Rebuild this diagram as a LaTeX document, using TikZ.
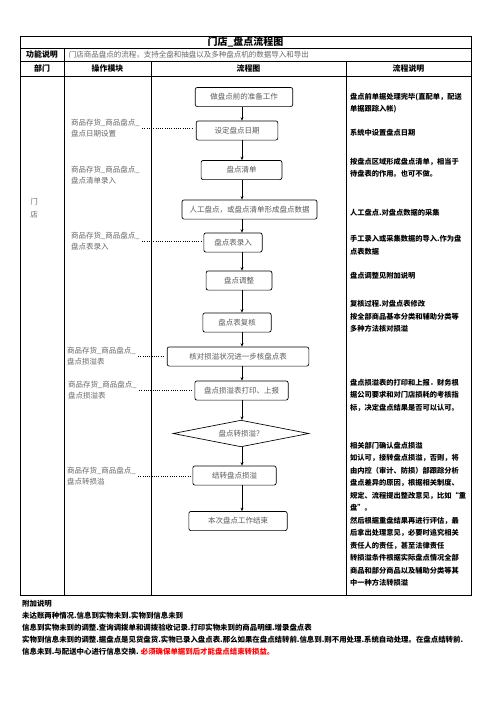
\documentclass[tikz,border=0pt]{standalone}
\usepackage{fontspec}
\setmainfont{Noto Sans CJK SC}
\usepackage{tikz}
\usetikzlibrary{arrows.meta,positioning,shapes.geometric}

\begin{document}
\begin{tikzpicture}[
  x=1.2pt, y=-1.2pt,
  grid/.style={line width=0.7pt},
  hd/.style={font=\bfseries\fontsize{9.5}{11}\selectfont},
  box/.style={draw, rounded corners=2.5pt, line width=0.8pt, minimum height=23pt, inner sep=1pt, text=black!65, font=\fontsize{9}{11}\selectfont},
  dec/.style={draw, diamond, shape aspect=5, inner sep=0pt, minimum width=163pt, minimum height=32pt, line width=0.8pt, text=black!65, font=\fontsize{9}{11}\selectfont},
  mod/.style={anchor=west, align=left, inner sep=0pt, text=black!60, font=\fontsize{9}{13.2}\selectfont},
  note/.style={anchor=west, align=left, inner sep=0pt, font=\bfseries\fontsize{8.7}{15}\selectfont},
  flow/.style={-{Stealth[length=4pt,width=3.5pt]}, line width=0.7pt},
  link/.style={dotted, line width=0.7pt, shorten <=3pt, shorten >=3pt}
]
\useasboundingbox (0,0) rectangle (496,702);

% table
\draw[grid] (20,36) rectangle (471,595);
\draw[grid] (20,48) -- (471,48);
\draw[grid] (20,61) -- (471,61);
\draw[grid] (20,76) -- (471,76);
\draw[grid] (64,48) -- (64,595);
\draw[grid] (151,61) -- (151,595);
\draw[grid] (346,61) -- (346,595);

\node[font=\bfseries\fontsize{12}{14}\selectfont] (title) at (245.5,42) {门店\_盘点流程图};
\node[hd] (func) at (42,55) {功能说明};
\node[anchor=west, text=black!60, font=\fontsize{9}{11}\selectfont] (funct) at (66,55) {门店商品盘点的流程，支持全盘和抽盘以及多种盘点机的数据导入和导出};
\node[hd] (h1) at (42,68.5) {部门};
\node[hd] (h2) at (107.5,68.5) {操作模块};
\node[hd] (h3) at (248.5,68.5) {流程图};
\node[hd] (h4) at (408.5,68.5) {流程说明};

\node[text=black!60, align=center, font=\fontsize{9}{15}\selectfont] (dept) at (34,208) {门\\店};

% operation modules
\node[mod] (m1) at (71,128.5) {商品存货\_商品盘点\_\\盘点日期设置};
\node[mod] (m2) at (71,175.5) {商品存货\_商品盘点\_\\盘点清单录入};
\node[mod] (m3) at (71,241.5) {商品存货\_商品盘点\_\\盘点表录入};
\node[mod] (m4) at (67,356.5) {商品存货\_商品盘点\_\\盘点损溢表};
\node[mod] (m5) at (68,390.5) {商品存货\_商品盘点\_\\盘点损溢表};
\node[mod] (m6) at (67,476) {商品存货\_商品盘点\_\\盘点转损溢};

% flow chart
\coordinate (spine) at (242,0);
\node[box, minimum width=117pt] (b1) at (244,97) {做盘点前的准备工作};
\node[box, minimum width=98pt] (b2) at (237,130.5) {设定盘点日期};
\node[box, minimum width=97pt] (b3) at (241.5,170) {盘点清单};
\node[box, minimum width=162pt] (b4) at (249.5,209.5) {人工盘点，或盘点清单形成盘点数据};
\node[box, minimum width=70pt] (b5) at (233,242.5) {盘点表录入};
\node[box, minimum width=79pt] (b6) at (239,280.5) {盘点调整};
\node[box, minimum width=82pt] (b7) at (237,322.5) {盘点表复核};
\node[box, minimum width=170pt] (b8) at (238,356.5) {核对损溢状况进一步核盘点表};
\node[box, minimum width=112pt] (b9) at (241.5,390.5) {盘点损溢表打印、上报};
\node[dec] (dia) at (241,433.5) {盘点转损溢？};
\node[box, minimum width=100pt] (b10) at (234.5,475.5) {结转盘点损溢};
\node[box, minimum width=118pt] (b11) at (238,521) {本次盘点工作结束};

\foreach \a/\b in {b1/b2, b2/b3, b3/b4, b4/b5, b5/b6, b6/b7, b7/b8, b8/b9, b9/dia, dia/b10, b10/b11}
  \draw[flow] (spine |- \a.south) -- (spine |- \b.north);

\draw[link] (m1.east) -- (m1.east -| b2.west);
\draw[link] (m3.east) -- (m3.east -| b5.west);
\draw[link] (m4.east) -- (m4.east -| b8.west);
\draw[link] (m5.east) -- (m5.east -| b9.west);
\draw[link] (m6.east) -- (m6.east -| b10.west);

% descriptions
\node[note] (d1) at (350,103) {盘点前单据处理完毕(直配单，配送\\单据跟踪入帐)};
\node[note] (d2) at (350,133) {系统中设置盘点日期};
\node[note] (d3) at (350,167.5) {按盘点区域形成盘点清单，相当于\\待盘表的作用。也可不做。};
\node[note] (d4) at (350,213) {人工盘点.对盘点数据的采集};
\node[note] (d5) at (350,245) {手工录入或采集数据的导入.作为盘\\点表数据};
\node[note] (d6) at (350,276) {盘点调整见附加说明};
\node[note] (d7) at (350,316.5) {复核过程.对盘点表修改\\按全部商品基本分类和辅助分类等\\多种方法核对损溢};
\node[note] (d8) at (350,395) {盘点损溢表的打印和上报．财务根\\据公司要求和对门店损耗的考核指\\标，决定盘点结果是否可以认可。};
\node[note] (d9) at (350,514) {相关部门确认盘点损溢\\如认可，接转盘点损溢，否则，将\\由内控（审计、防损）部跟踪分析\\盘点差异的原因，根据相关制度、\\规定、流程提出整改意见，比如“重\\盘”。\\然后根据重盘结果再进行评估，最\\后拿出处理意见，必要时追究相关\\责任人的责任，甚至法律责任\\转损溢条件根据实际盘点情况全部\\商品和部分商品以及辅助分类等其\\中一种方法转损溢};

% notes
\node[note, font=\bfseries\fontsize{8.9}{14.4}\selectfont] (extra) at (22,628) {附加说明\\未达账两种情况.信息到实物未到.实物到信息未到\\信息到实物未到的调整.查询调拨单和调拨验收记录.打印实物未到的商品明细.增录盘点表\\实物到信息未到的调整.据盘点是见货盘货.实物已录入盘点表.那么如果在盘点结转前.信息到.则不用处理.系统自动处理。在盘点结转前.\\信息未到.与配送中心进行信息交换. {\color{red}必须确保单据到后才能盘点结束转损益。}};
\end{tikzpicture}
\end{document}
